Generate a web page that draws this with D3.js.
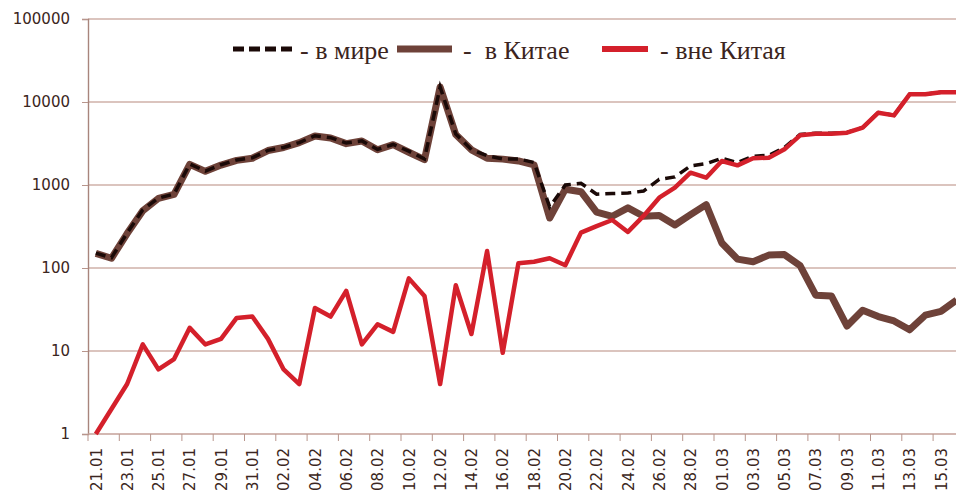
<!DOCTYPE html>
<html>
<head>
<meta charset="utf-8">
<script src="https://cdn.jsdelivr.net/npm/d3@7/dist/d3.min.js"></script>
<style>
  body { margin: 0; background: #fff; }
  .axis text { font-family: "DejaVu Sans", sans-serif; font-size: 15px; fill: #3b2621; }
  .legend text { font-family: "Liberation Serif", "Times New Roman", serif; font-size: 26px; fill: #3b2420; }
</style>
</head>
<body>
<div class="chart"></div>
<script>
  var dates = ["21.01","22.01","23.01","24.01","25.01","26.01","27.01","28.01","29.01","30.01","31.01",
    "01.02","02.02","03.02","04.02","05.02","06.02","07.02","08.02","09.02","10.02","11.02","12.02","13.02","14.02",
    "15.02","16.02","17.02","18.02","19.02","20.02","21.02","22.02","23.02","24.02","25.02","26.02","27.02","28.02","29.02",
    "01.03","02.03","03.03","04.03","05.03","06.03","07.03","08.03","09.03","10.03","11.03","12.03","13.03","14.03","15.03","16.03"];

  var seriesNames = ["- в мире", "в Китае", "- вне Китая"];

  var world = [151,133,264,502,696,778,1789,1472,1754,2005,2126,
    2614,2836,3244,3923,3716,3203,3402,2681,3077,2555,2066,15154,4112,2666,
    2260,2060,2064,1869,545,1000,1050,775,790,800,845,1170,1250,1700,1810,
    2100,1860,2220,2280,2835,4073,4198,4196,4290,4931,7456,6923,12378,12427,13130,13141];

  var china = [150,131,260,490,690,770,1770,1460,1740,1980,2100,
    2600,2830,3240,3890,3690,3150,3390,2660,3060,2480,2020,15150,4050,2650,
    2100,2050,1950,1750,400,890,830,470,420,530,420,430,330,440,580,
    200,128,119,143,145,107,47,46,20,31,26,23,18,27,30,41];

  var outside = [1,2,4,12,6,8,19,12,14,25,26,
    14,6,4,33,26,53,12,21,17,75,46,4,62,16,
    160,9.5,114,119,131,108,267,320,379,272,424,703,929,1408,1225,
    1945,1725,2100,2133,2690,3966,4151,4150,4270,4900,7430,6900,12360,12400,13100,13100];

  var yTicks = [1, 10, 100, 1000, 10000, 100000];

  var margin = {top: 19, right: 0, bottom: 62, left: 88},
      width = 956 - margin.left - margin.right,
      height = 496 - margin.top - margin.bottom;

  var svg = d3.select('.chart')
      .append("svg")
      .attr("width", 956)
      .attr("height", 496)
      .append("g")
      .attr("transform", "translate(" + margin.left + "," + margin.top + ")");

  var xScale = d3.scaleBand()
      .domain(dates)
      .range([0, dates.length * 15.65]);

  var yScale = d3.scaleLog()
      .domain([1, 100000])
      .range([height, 0]);

  var bw = xScale.bandwidth();
  var xc = function(d, i) { return xScale(dates[i]) + bw / 2; };

  // gridlines
  svg.append("g")
      .selectAll("line")
      .data(yTicks.slice(1))
      .enter().append("line")
      .attr("x1", 0)
      .attr("x2", width)
      .attr("y1", function(d) { return yScale(d); })
      .attr("y2", function(d) { return yScale(d); })
      .attr("stroke", "#cfb0a8")
      .attr("stroke-width", 1.6);

  var yAxis = d3.axisLeft(yScale)
      .tickValues(yTicks)
      .tickFormat(d3.format("d"))
      .tickSize(6)
      .tickPadding(12);

  var gy = svg.append("g")
      .attr("class", "y axis")
      .call(yAxis);
  gy.select(".domain").attr("stroke", "#a8857c").attr("stroke-width", 1.4);
  gy.selectAll(".tick line").attr("stroke", "#b8958c");

  var xAxis = d3.axisBottom(xScale)
      .tickValues(dates.filter(function(d, i) { return i % 2 === 0; }))
      .tickSize(7);

  var gx = svg.append("g")
      .attr("class", "x axis")
      .attr("transform", "translate(0," + height + ")")
      .call(xAxis);
  gx.select(".domain").attr("d", "M0,0H" + width).attr("stroke", "#c4a198").attr("stroke-width", 1.6);
  gx.selectAll(".tick line")
      .attr("x1", -bw / 2)
      .attr("x2", -bw / 2)
      .attr("stroke", "#b8958c");
  gx.selectAll(".tick text")
      .attr("y", 0)
      .attr("x", -14)
      .attr("dy", "0.38em")
      .attr("transform", "rotate(-90)")
      .style("text-anchor", "end");

  var line = d3.line()
      .x(xc)
      .y(function(d) { return yScale(d); });

  svg.append("path")
      .datum(china)
      .attr("fill", "none")
      .attr("stroke", "#6e4239")
      .attr("stroke-width", 7)
      .attr("stroke-linejoin", "round")
      .attr("d", line);

  svg.append("path")
      .datum(world)
      .attr("fill", "none")
      .attr("stroke", "#1a0907")
      .attr("stroke-width", 3.5)
      .attr("stroke-dasharray", "10,6")
      .attr("d", line);

  svg.append("path")
      .datum(outside)
      .attr("fill", "none")
      .attr("stroke", "#d4202b")
      .attr("stroke-width", 4.5)
      .attr("stroke-linejoin", "round")
      .attr("d", line);

  // legend
  var legend = d3.select("svg").append("g").attr("class", "legend");
  var legendItems = [
    {x1: 233, x2: 293, tx: 300, color: "#1a0907", w: 5, dash: "11,5"},
    {x1: 397, x2: 452, tx: 463, color: "#6e4239", w: 7, dash: null},
    {x1: 602, x2: 648, tx: 660, color: "#d4202b", w: 6, dash: null}
  ];
  legendItems.forEach(function(it, i) {
    legend.append("line")
        .attr("x1", it.x1).attr("x2", it.x2)
        .attr("y1", 49).attr("y2", 49)
        .attr("stroke", it.color)
        .attr("stroke-width", it.w)
        .attr("stroke-dasharray", it.dash);
    legend.append("text")
        .attr("x", it.tx)
        .attr("y", 59)
        .text(i === 1 ? "-  " + seriesNames[i] : seriesNames[i])
        .style("white-space", "pre");
  });
</script>
</body>
</html>
